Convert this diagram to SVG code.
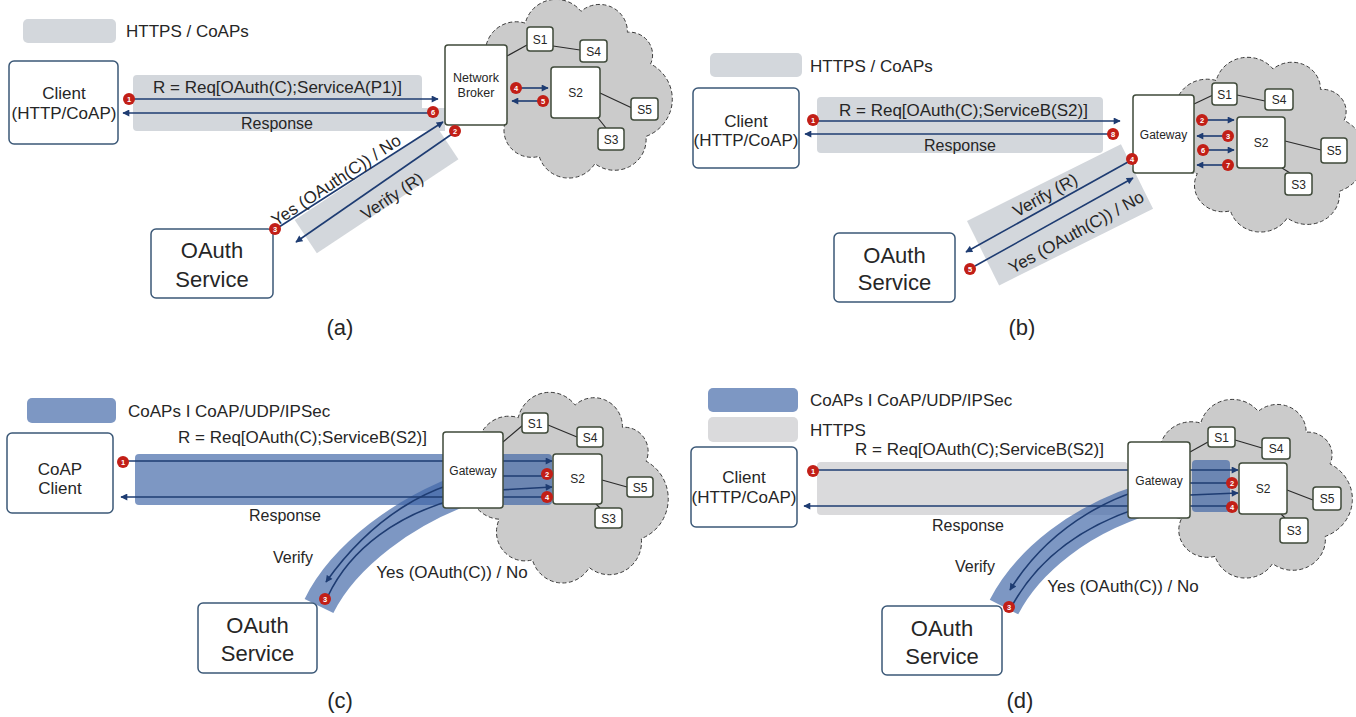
<svg xmlns="http://www.w3.org/2000/svg" xmlns:xlink="http://www.w3.org/1999/xlink" width="1356" height="717" viewBox="0 0 1356 717">
  <defs>
    <style>
      text { font-family: "Liberation Sans", Arial, sans-serif; fill: #262626; }
      .lbl { font-size: 17px; }
      .rsp { font-size: 16px; }
      .big { font-size: 22px; }
      .cap { font-size: 22px; text-anchor: middle; }
      .sm { font-size: 12px; text-anchor: middle; }
      .mid { text-anchor: middle; }
      .gray { fill: #d3d7dc; }
      .gray2 { fill: #dadadc; }
      .blue { fill: #3f66a6; fill-opacity: 0.68; }
      .arc { fill: none; stroke: #3f66a6; stroke-opacity: 0.68; stroke-width: 32; }
      .cloud { fill: #cbcbcb; stroke: #3a3a3a; stroke-width: 1; stroke-dasharray: 4 2.5; vector-effect: non-scaling-stroke; }
      .box { fill: #fff; stroke: #3b5877; stroke-width: 1.5; }
      .nbox { fill: #fff; stroke: #3f4a3a; stroke-width: 1.5; }
      .link { fill: none; stroke: #2b2b2b; stroke-width: 1.2; }
      .arr { fill: none; stroke: #1e3c72; stroke-width: 1.6; marker-end: url(#ah); }
      .badge circle { fill: #c21f17; }
      .badge text { fill: #fff; font-size: 7.5px; font-weight: bold; text-anchor: middle; }
    </style>
    <marker id="ah" viewBox="0 0 10 10" refX="9" refY="5" markerWidth="8" markerHeight="7" markerUnits="userSpaceOnUse" orient="auto">
      <path d="M0,0 L10,5 L0,10 z" fill="#1e3c72"/>
    </marker>
    <path id="cloud" class="cloud" d="M 25 70 A 33 33 0 0 1 65 25 A 34 34 0 0 1 125 12 A 30 30 0 0 1 175 35 A 25 25 0 0 1 200 70 A 44 44 0 0 1 195 150 A 34 34 0 0 1 140 180 A 33 33 0 0 1 80 172 A 30 30 0 0 1 45 130 A 34 34 0 0 1 25 70 Z"/>
  </defs>

  <rect width="1356" height="717" fill="#fff"/>

  <!-- ===================== (a) ===================== -->
  <g id="a-legend">
    <rect class="gray" x="23" y="19" width="93" height="24" rx="5"/>
    <text class="lbl" x="126" y="37">HTTPS / CoAPs</text>
  </g>
  <g id="a-bands">
    <path class="gray" d="M137 75 H418 Q422 75 422 79 V108 H445 V131 H137 Q133 131 133 127 V79 Q133 75 137 75 Z"/>
    <rect class="gray" x="0" y="0" width="170" height="40" transform="translate(294.7,220) rotate(-33.6)"/>
  </g>
  <g id="a-cloud"><use xlink:href="#cloud" transform="translate(465,0.5) scale(0.928,0.906)"/></g>
  <g id="a-connectors">
    <path class="link" d="M507 56 L527 45 M553 46 L580 50 M600 93 L632 108 M598 118 L606 128"/>
    <path class="arr" d="M134 99 H438"/>
    <path class="arr" d="M428 113 H123"/>
    <path class="arr" d="M520 88 H548"/>
    <path class="arr" d="M538 101 H512"/>
    <path class="arr" d="M279 227 L443 122"/>
    <path class="arr" d="M452 134 L296 242"/>
    <text class="lbl" x="153" y="93">R = Req[OAuth(C);ServiceA(P1)]</text>
    <text class="rsp mid" x="277" y="129">Response</text>
    <text class="lbl mid" transform="translate(336,180) rotate(-33.5)" x="0" y="6">Yes (OAuth(C)) / No</text>
    <text class="lbl mid" transform="translate(392,196) rotate(-33.5)" x="0" y="6">Verify (R)</text>
  </g>
  <g id="a-client"><rect class="box" x="9" y="61" width="109" height="83" rx="5"/><text class="lbl mid" x="64" y="99">Client</text><text class="lbl mid" x="64" y="119">(HTTP/CoAP)</text></g>
  <g id="a-broker"><rect class="nbox" x="445" y="45" width="62" height="80" rx="3"/><text class="mid" style="font-size:12.5px" x="476" y="82">Network</text><text class="mid" style="font-size:12.5px" x="476" y="97">Broker</text></g>
  <g id="a-s1"><rect class="nbox" x="527" y="27" width="26" height="24" rx="3"/><text class="sm" x="540" y="43.5">S1</text></g>
  <g id="a-s4"><rect class="nbox" x="580" y="40" width="27" height="22" rx="3"/><text class="sm" x="593.5" y="55.5">S4</text></g>
  <g id="a-s2"><rect class="nbox" x="551" y="67" width="49" height="51" rx="3"/><text class="sm" x="575.5" y="97">S2</text></g>
  <g id="a-s5"><rect class="nbox" x="631" y="98" width="27" height="22" rx="3"/><text class="sm" x="644.5" y="113.5">S5</text></g>
  <g id="a-s3"><rect class="nbox" x="598" y="128" width="26" height="22" rx="3"/><text class="sm" x="611" y="143.5">S3</text></g>
  <g id="a-oauth"><rect class="box" x="151" y="229" width="122" height="69" rx="5"/><text class="big mid" x="212" y="258">OAuth</text><text class="big mid" x="212" y="287">Service</text></g>
  <g id="a-badges">
    <g class="badge"><circle cx="129" cy="99" r="6"/><text x="129" y="101.7">1</text></g>
    <g class="badge"><circle cx="455" cy="131" r="6"/><text x="455" y="133.7">2</text></g>
    <g class="badge"><circle cx="275" cy="229" r="6"/><text x="275" y="231.7">3</text></g>
    <g class="badge"><circle cx="516" cy="88" r="6"/><text x="516" y="90.7">4</text></g>
    <g class="badge"><circle cx="543" cy="101" r="6"/><text x="543" y="103.7">5</text></g>
    <g class="badge"><circle cx="433" cy="112" r="6"/><text x="433" y="114.7">6</text></g>
  </g>
  <text class="cap" x="340" y="335">(a)</text>

  <!-- ===================== (b) ===================== -->
  <g id="b-legend">
    <rect class="gray" x="710" y="53" width="92" height="24" rx="5"/>
    <text class="lbl" x="810" y="72">HTTPS / CoAPs</text>
  </g>
  <g id="b-bands">
    <rect class="gray" x="817" y="97" width="286" height="56" rx="4"/>
    <rect class="gray" x="0" y="0" width="172" height="72" transform="translate(967,221) rotate(-26.5)"/>
  </g>
  <g id="b-cloud"><use xlink:href="#cloud" transform="translate(1154.7,58.4) scale(0.947,0.886)"/></g>
  <g id="b-connectors">
    <path class="link" d="M1194 104 L1213 95 M1237 95 L1265 101 M1285 141 L1321 150 M1282 168 L1290 173"/>
    <path class="arr" d="M817 121 H1120"/>
    <path class="arr" d="M1108 134 H805"/>
    <path class="arr" d="M1207 120 H1234"/>
    <path class="arr" d="M1223 136 H1197"/>
    <path class="arr" d="M1208 150 H1234"/>
    <path class="arr" d="M1223 165 H1197"/>
    <path class="arr" d="M1128 162 L966 252"/>
    <path class="arr" d="M975 266 L1133 178"/>
    <text class="lbl" x="839" y="116">R = Req[OAuth(C);ServiceB(S2)]</text>
    <text class="rsp mid" x="960" y="151">Response</text>
    <text class="lbl mid" transform="translate(1045,195) rotate(-29)" x="0" y="6">Verify (R)</text>
    <text class="lbl mid" transform="translate(1076,232) rotate(-29)" x="0" y="6">Yes (OAuth(C)) / No</text>
  </g>
  <g id="b-client"><rect class="box" x="693" y="88" width="106" height="80" rx="5"/><text class="lbl mid" x="746" y="127">Client</text><text class="lbl mid" x="746" y="146">(HTTP/CoAP)</text></g>
  <g id="b-gateway"><rect class="nbox" x="1133" y="95" width="61" height="78" rx="3"/><text class="sm" x="1163.5" y="139">Gateway</text></g>
  <g id="b-s1"><rect class="nbox" x="1212" y="83" width="25" height="22" rx="3"/><text class="sm" x="1224.5" y="98.5">S1</text></g>
  <g id="b-s4"><rect class="nbox" x="1265" y="89" width="28" height="21" rx="3"/><text class="sm" x="1279" y="104">S4</text></g>
  <g id="b-s2"><rect class="nbox" x="1237" y="117" width="48" height="51" rx="3"/><text class="sm" x="1261" y="147">S2</text></g>
  <g id="b-s5"><rect class="nbox" x="1321" y="138" width="26" height="25" rx="3"/><text class="sm" x="1334" y="155">S5</text></g>
  <g id="b-s3"><rect class="nbox" x="1285" y="173" width="27" height="22" rx="3"/><text class="sm" x="1298.5" y="188.5">S3</text></g>
  <g id="b-oauth"><rect class="box" x="834" y="233" width="121" height="69" rx="5"/><text class="big mid" x="894.5" y="263">OAuth</text><text class="big mid" x="894.5" y="290">Service</text></g>
  <g id="b-badges">
    <g class="badge"><circle cx="813" cy="120" r="6"/><text x="813" y="122.7">1</text></g>
    <g class="badge"><circle cx="1202" cy="120" r="6"/><text x="1202" y="122.7">2</text></g>
    <g class="badge"><circle cx="1228" cy="136" r="6"/><text x="1228" y="138.7">3</text></g>
    <g class="badge"><circle cx="1132" cy="159" r="6"/><text x="1132" y="161.7">4</text></g>
    <g class="badge"><circle cx="970" cy="269" r="6"/><text x="970" y="271.7">5</text></g>
    <g class="badge"><circle cx="1203" cy="150" r="6"/><text x="1203" y="152.7">6</text></g>
    <g class="badge"><circle cx="1228" cy="165" r="6"/><text x="1228" y="167.7">7</text></g>
    <g class="badge"><circle cx="1113" cy="134" r="6"/><text x="1113" y="136.7">8</text></g>
  </g>
  <text class="cap" x="1022" y="335">(b)</text>

  <!-- ===================== (c) ===================== -->
  <g id="c-legend">
    <rect class="blue" x="27" y="398" width="89" height="25" rx="5"/>
    <text class="lbl" x="128" y="417">CoAPs I CoAP/UDP/IPSec</text>
  </g>
  <g id="c-cloud"><use xlink:href="#cloud" transform="translate(456.7,393.5) scale(0.947,0.967)"/></g>
  <g id="c-bands">
    <rect class="blue" x="135" y="454" width="417" height="51" rx="4"/>
    <path class="arc" d="M319 606 C340 563, 400 505, 500 478"/>
  </g>
  <g id="c-connectors">
    <path class="link" d="M503 442 L523 425 M548 425 L577 437 M602 480 L627 487 M596 504 L600 508"/>
    <path class="arr" d="M127 461 H552"/>
    <path class="arr" d="M543 497 H121"/>
    <path class="arr" d="M543 476 H495 C430 480, 370 520, 326 582"/>
    <path class="arr" d="M328 596 C345 560, 390 505, 500 490 L552 487"/>
    <text class="lbl" x="178" y="443">R = Req[OAuth(C);ServiceB(S2)]</text>
    <text class="rsp mid" x="285" y="521">Response</text>
    <text class="rsp mid" x="293" y="563">Verify</text>
    <text class="lbl mid" x="452" y="578">Yes (OAuth(C)) / No</text>
  </g>
  <g id="c-client"><rect class="box" x="7" y="433" width="106" height="80" rx="5"/><text class="lbl mid" x="60" y="475">CoAP</text><text class="lbl mid" x="60" y="494">Client</text></g>
  <g id="c-gateway"><rect class="nbox" x="443" y="432" width="60" height="76" rx="3"/><text class="sm" x="473" y="475">Gateway</text></g>
  <g id="c-s1"><rect class="nbox" x="522" y="413" width="26" height="20" rx="3"/><text class="sm" x="535" y="427.5">S1</text></g>
  <g id="c-s4"><rect class="nbox" x="577" y="427" width="26" height="20" rx="3"/><text class="sm" x="590" y="441.5">S4</text></g>
  <g id="c-s2"><rect class="nbox" x="553" y="454" width="49" height="50" rx="3"/><text class="sm" x="577.5" y="483">S2</text></g>
  <g id="c-s5"><rect class="nbox" x="627" y="477" width="26" height="20" rx="3"/><text class="sm" x="640" y="491.5">S5</text></g>
  <g id="c-s3"><rect class="nbox" x="595" y="508" width="27" height="20" rx="3"/><text class="sm" x="608.5" y="522.5">S3</text></g>
  <g id="c-oauth"><rect class="box" x="198" y="603" width="119" height="70" rx="5"/><text class="big mid" x="257.5" y="633">OAuth</text><text class="big mid" x="257.5" y="661">Service</text></g>
  <g id="c-badges">
    <g class="badge"><circle cx="123" cy="462" r="6"/><text x="123" y="464.7">1</text></g>
    <g class="badge"><circle cx="547" cy="474" r="6"/><text x="547" y="476.7">2</text></g>
    <g class="badge"><circle cx="325" cy="599" r="6"/><text x="325" y="601.7">3</text></g>
    <g class="badge"><circle cx="547" cy="497" r="6"/><text x="547" y="499.7">4</text></g>
  </g>
  <text class="cap" x="340" y="708">(c)</text>

  <!-- ===================== (d) ===================== -->
  <g id="d-legend">
    <rect class="blue" x="708" y="388" width="90" height="24" rx="5"/>
    <text class="lbl" x="810" y="406">CoAPs I CoAP/UDP/IPSec</text>
    <rect class="gray2" x="708" y="417" width="90" height="25" rx="5"/>
    <text class="lbl" x="810" y="436">HTTPS</text>
  </g>
  <g id="d-cloud"><use xlink:href="#cloud" transform="translate(1138.6,400.5) scale(0.957,0.906)"/></g>
  <g id="d-bands">
    <rect class="gray2" x="817" y="462" width="311" height="53" rx="4"/>
    <rect class="blue" x="1192" y="460" width="38" height="52" rx="4"/>
    <path class="arc" d="M1004 607 C1025 566, 1078 515, 1165 494"/>
  </g>
  <g id="d-connectors">
    <path class="link" d="M1190 452 L1208 442 M1235 440 L1262 448 M1287 490 L1313 500 M1281 514 L1285 518"/>
    <path class="arr" d="M817 470 H1238"/>
    <path class="arr" d="M1228 506 H804"/>
    <path class="arr" d="M1228 483 H1180 C1120 487, 1050 525, 1010 590"/>
    <path class="arr" d="M1013 604 C1035 565, 1080 515, 1190 495 L1238 493"/>
    <text class="lbl" x="855" y="455">R = Req[OAuth(C);ServiceB(S2)]</text>
    <text class="rsp mid" x="968" y="531">Response</text>
    <text class="rsp mid" x="975" y="572">Verify</text>
    <text class="lbl mid" x="1123" y="592">Yes (OAuth(C)) / No</text>
  </g>
  <g id="d-client"><rect class="box" x="691" y="447" width="106" height="80" rx="5"/><text class="lbl mid" x="744" y="483">Client</text><text class="lbl mid" x="744" y="503">(HTTP/CoAP)</text></g>
  <g id="d-gateway"><rect class="nbox" x="1128" y="442" width="62" height="76" rx="3"/><text class="sm" x="1159" y="485">Gateway</text></g>
  <g id="d-s1"><rect class="nbox" x="1208" y="427" width="27" height="20" rx="3"/><text class="sm" x="1221.5" y="441.5">S1</text></g>
  <g id="d-s4"><rect class="nbox" x="1262" y="438" width="28" height="21" rx="3"/><text class="sm" x="1276" y="453">S4</text></g>
  <g id="d-s2"><rect class="nbox" x="1239" y="463" width="48" height="51" rx="3"/><text class="sm" x="1263" y="493">S2</text></g>
  <g id="d-s5"><rect class="nbox" x="1313" y="487" width="28" height="23" rx="3"/><text class="sm" x="1327" y="503">S5</text></g>
  <g id="d-s3"><rect class="nbox" x="1280" y="518" width="28" height="25" rx="3"/><text class="sm" x="1294" y="535">S3</text></g>
  <g id="d-oauth"><rect class="box" x="882" y="606" width="120" height="69" rx="5"/><text class="big mid" x="942" y="636">OAuth</text><text class="big mid" x="942" y="664">Service</text></g>
  <g id="d-badges">
    <g class="badge"><circle cx="813" cy="471" r="6"/><text x="813" y="473.7">1</text></g>
    <g class="badge"><circle cx="1232" cy="483" r="6"/><text x="1232" y="485.7">2</text></g>
    <g class="badge"><circle cx="1009" cy="607" r="6"/><text x="1009" y="609.7">3</text></g>
    <g class="badge"><circle cx="1232" cy="507" r="6"/><text x="1232" y="509.7">4</text></g>
  </g>
  <text class="cap" x="1020" y="708">(d)</text>
</svg>
